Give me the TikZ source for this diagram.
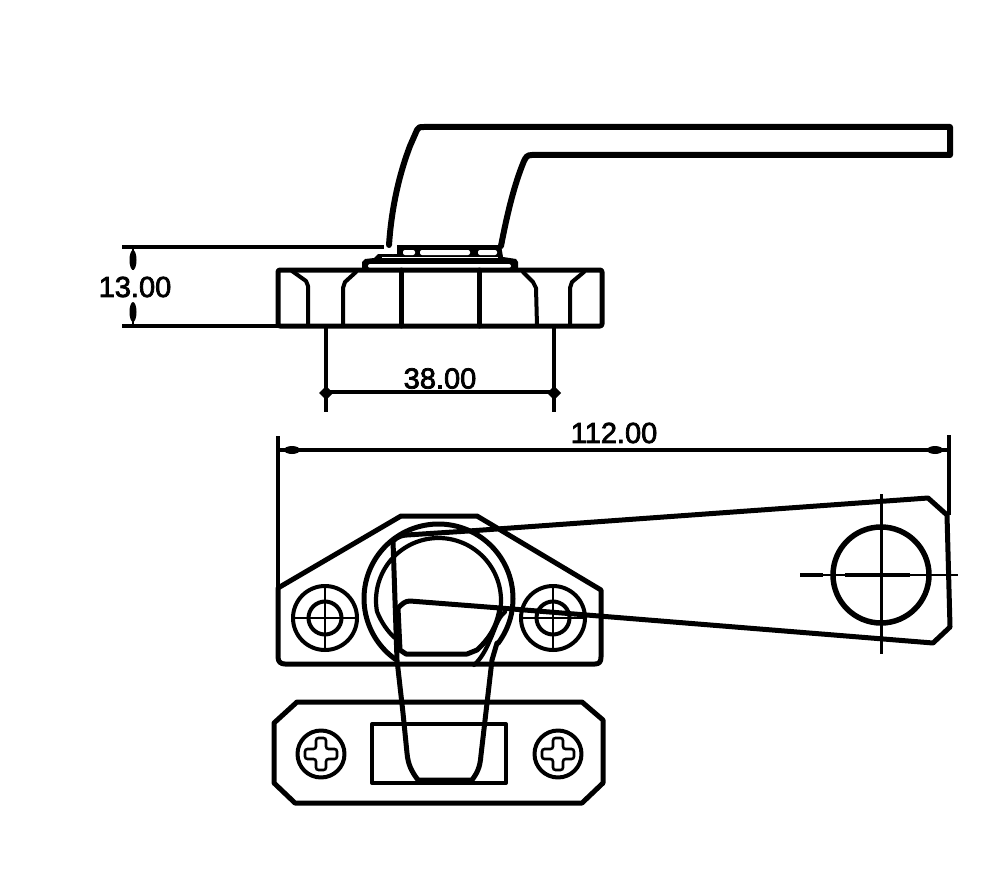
\documentclass[tikz,border=0pt]{standalone}
\usepackage{fontspec}
\newfontfamily\dimfont[FakeBold=2.6]{Liberation Sans}
\tikzset{
  obj/.style={draw=black,line width=5pt,line join=round,line cap=round},
  thick obj/.style={draw=black,line width=6pt,line join=round,line cap=round},
  hairline/.style={draw=black,line width=2.8pt},
  dimline/.style={draw=black,line width=3.6pt},
  dimtext/.style={font=\dimfont\fontsize{29}{29}\selectfont,inner sep=0pt,text=black},
  slot/.style={fill=white,draw=none,rounded corners=2pt}
}
\begin{document}
\begin{tikzpicture}[x=1pt,y=-1pt]
\fill[white] (0,0) rectangle (1000,893);
\useasboundingbox (0,0) rectangle (1000,893);

% ---- elevation: handle
\draw[thick obj] (389,245) .. controls (391,215) and (397,180) .. (410,146)
  -- (417,130) .. controls (418,127) and (420,127) .. (424,127)
  -- (950,127) -- (950,155) -- (532,155) .. controls (527,155) and (526,157) .. (524,161)
  .. controls (514,185) and (507,215) .. (501,246);

% ---- collar
\fill[black] (397,245) -- (501,245) -- (503,257) -- (516,259) -- (518,262) -- (518,269)
  -- (362,269) -- (362,262) -- (365,259) -- (374,258) -- (378,254) -- (397,254) -- cycle;
\fill[slot] (403,250) rectangle (415,255);
\fill[slot] (420,250) rectangle (470,255);
\fill[slot] (478,250) rectangle (497,255);
\fill[white] (393,252) circle[radius=2.2];
\fill[slot] (368,264) rectangle (511,268);
\draw[white,line width=.7pt] (382,257.5) -- (498,257.5);

% ---- elevation: base
\draw[obj,rounded corners=2pt] (278,270) rectangle (602,326);
\draw[obj,line width=4pt] (292,271) -- (306,281) -- (308,286) -- (308,326);
\draw[obj,line width=4pt] (356,272) -- (345,282) -- (343,288) -- (343,326);
\draw[obj] (401,270) -- (401,326);
\draw[obj] (479,270) -- (479,326);
\draw[obj,line width=4pt] (523,272) -- (533,282) -- (536,288) -- (537,326);
\draw[obj,line width=4pt] (584,272) -- (572,282) -- (570,288) -- (570,326);

% ---- 13.00 dimension
\draw[dimline] (122,247) -- (384,247);
\draw[dimline] (122,326) -- (278,326);
\fill[black] (133,260) ellipse[x radius=3.5,y radius=10];
\fill[black] (133,312) ellipse[x radius=3.5,y radius=10];
\draw[hairline] (133,248) -- (133,270) (133,304) -- (133,326);
\node[dimtext] (dimA) at (135,287) {13.00};

% ---- 38.00 dimension
\draw[dimline] (326,328) -- (326,412);
\draw[dimline] (554,328) -- (554,412);
\draw[dimline] (326,392) -- (554,392);
\fill[black] (326,386) -- (333,393) -- (326,400) -- (319,393) -- cycle;
\fill[black] (554,386) -- (561,393) -- (554,400) -- (547,393) -- cycle;
\node[dimtext] (dimB) at (440,378.5) {38.00};

% ---- 112.00 dimension
\draw[dimline] (278,436) -- (278,590);
\draw[dimline] (949,435) -- (949,515);
\draw[dimline] (278,450) -- (949,450);
\fill[black] (292,450) ellipse[x radius=8,y radius=4];
\fill[black] (935,450) ellipse[x radius=8,y radius=4];
\node[dimtext] (dimC) at (614,433) {112.00};

% ---- plan: plate
\draw[obj,line width=5pt] (278,588) -- (401,516) -- (477,516) -- (601,590)
  -- (601,657) .. controls (601,662) and (599,664) .. (595,664)
  -- (285,664) .. controls (281,664) and (278,662) .. (278,657) -- cycle;

% ---- plan: screws on the plate
\foreach \sx in {325,553}{
  \draw[obj,line width=4pt] (\sx,618) circle[radius=32];
  \draw[obj,line width=4pt] (\sx,618) circle[radius=16.5];
  \draw[hairline] (\sx-32,618) -- (\sx+32,618) (\sx,586) -- (\sx,650);
}

% ---- plan: rings
\draw[obj] plot[domain=-37:235,samples=90,smooth] ({438.5+74.5*cos(\x)},{598.5-74.5*sin(\x)});
\draw[obj,line width=4.2pt] plot[domain=-11.5:190,samples=80,smooth] ({438.5+62.5*cos(\x)},{600.5-62.5*sin(\x)})
  .. controls (381,622) and (388,632) .. (395,638);
\draw[obj,line width=4.2pt] (505,612) .. controls (497,618) and (495,630) .. (490,640)
  .. controls (486,650) and (480,660) .. (474,665);

% ---- plan: lever
\draw[obj] (476,530.5) -- (928,498) -- (947,515) -- (950,627) -- (933,643) -- (500,608)
  -- (410,601) .. controls (405,601) and (402,604) .. (398,608)
  -- (400,650) -- (406,654) -- (467,654) -- (477,650)
  .. controls (488,640) and (497,628) .. (500,608);
\draw[obj] (476,530.5) -- (407,535) .. controls (402,535) and (397,537) .. (393,541)
  -- (397,660) -- (403,713) -- (407,753) .. controls (408,765) and (412,772) .. (418,780)
  -- (472,780) .. controls (477,773) and (480,768) .. (481,755)
  -- (492,660) -- (497,643);

% ---- plan: centre lines on the lever eye
\draw[obj,line width=5.5pt] (881,575) circle[radius=48];
\draw[hairline,line width=3pt] (881,494) -- (881,654);
\draw[dimline,line width=4.4pt] (800,575) -- (823,575) (845,575) -- (910,575);
\draw[hairline] (823,575) -- (845,575) (910,575) -- (958,575);

% ---- plan: keeper
\draw[obj] (297,702) -- (582,702) -- (603,720) -- (603,783) -- (582,803)
  -- (295,803) -- (274,783) -- (274,723) -- cycle;
\draw[obj,line width=4pt] (372,724) rectangle (506,783);
\foreach \kx in {321,558}{
  \draw[obj,line width=4pt] (\kx,754) circle[radius=23.5];
  \draw[hairline,line width=2.6pt,rounded corners=2.5pt]
    (\kx-5,754-16) -- (\kx+5,754-16) -- (\kx+5,754-5) -- (\kx+16,754-5) -- (\kx+16,754+5)
    -- (\kx+5,754+5) -- (\kx+5,754+16) -- (\kx-5,754+16) -- (\kx-5,754+5) -- (\kx-16,754+5)
    -- (\kx-16,754-5) -- (\kx-5,754-5) -- cycle;
}
\end{tikzpicture}
\end{document}
